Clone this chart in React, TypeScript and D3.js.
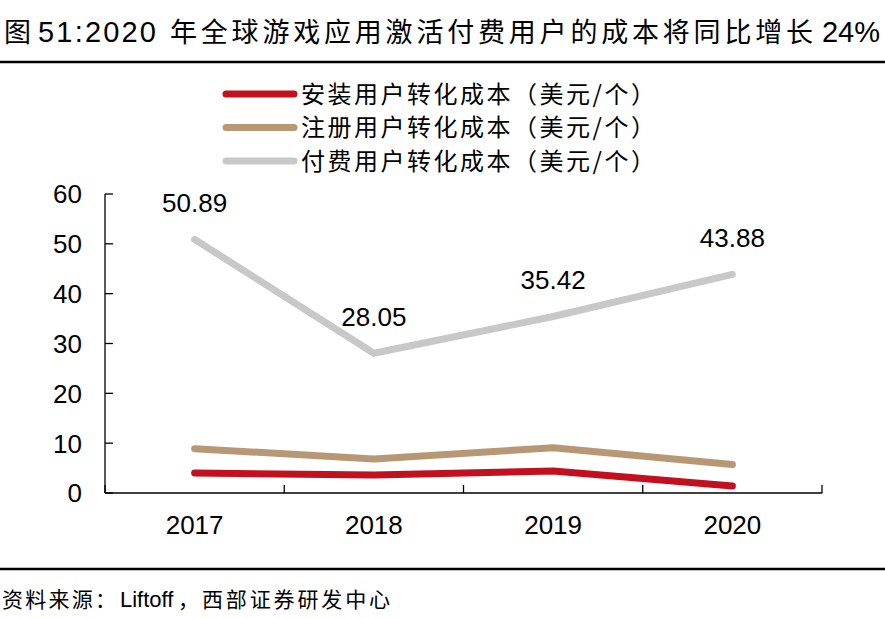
import React from "react";
import * as d3 from "d3";

const years = ["2017", "2018", "2019", "2020"];
const installCost = [4.0, 3.6, 4.4, 1.4];
const registerCost = [8.9, 6.8, 9.1, 5.7];
const payCost = [50.89, 28.05, 35.42, 43.88];
const payLabels = ["50.89", "28.05", "35.42", "43.88"];
const yTicks = [0, 10, 20, 30, 40, 50, 60];
const seriesNames = [
  "安装用户转化成本（美元/个）",
  "注册用户转化成本（美元/个）",
  "付费用户转化成本（美元/个）",
];
const titleA = "图";
const titleB = "51:2020";
const titleC = "年全球游戏应用激活付费用户的成本将同比增长";
const titleD = "24%";
const sourceA = "资料来源：";
const sourceB = "Liftoff";
const sourceC = "，西部证券研发中心";

const colors = ["#C3101E", "#B89874", "#C8C8C8"];

export default function App() {
  const W = 885, H = 618;
  const left = 105, right = 822, top = 194, bottom = 493;
  const x = d3.scaleBand().domain(years).range([left, right]);
  const y = d3.scaleLinear().domain([0, 60]).range([bottom, top]);
  const line = d3
    .line<number>()
    .x((_, i) => (x(years[i]) as number) + x.bandwidth() / 2)
    .y((d) => y(d));
  const series = [installCost, registerCost, payCost];
  const cjk = "'Noto Sans CJK SC', 'Liberation Sans', sans-serif";
  const num = "'Liberation Sans', Arial, sans-serif";
  const boundaries = years.map((yr) => x(yr) as number).concat([right]);

  return (
    <svg width={W} height={H} style={{ position: "absolute", left: 0, top: 0, background: "#fff" }}>
      <g fill="#000">
        <text x={4} y={42} fontSize={27} fontFamily={cjk}>{titleA}</text>
        <text x={38} y={42} fontSize={29} fontFamily={num} textLength={118} lengthAdjust="spacing">{titleB}</text>
        <text x={170} y={42} fontSize={27} fontFamily={cjk} textLength={643} lengthAdjust="spacing">{titleC}</text>
        <text x={880} y={42} fontSize={29} fontFamily={num} textAnchor="end">{titleD}</text>
      </g>
      <line x1={0} x2={W} y1={62} y2={62} stroke="#000" strokeWidth={2.5} />

      {seriesNames.map((n, i) => (
        <g key={n}>
          <line x1={226} x2={294} y1={94 + i * 33.5} y2={94 + i * 33.5} stroke={colors[i]} strokeWidth={7} strokeLinecap="round" />
          <text x={301} y={94 + i * 33.5} dy="0.36em" fontSize={24} fontFamily={cjk} fill="#000" textLength={354} lengthAdjust="spacing">
            {n}
          </text>
        </g>
      ))}

      {/* y axis */}
      <line x1={left} x2={left} y1={top} y2={bottom} stroke="#000" strokeWidth={1.3} />
      {yTicks.map((t) => (
        <g key={t}>
          <line x1={left} x2={left + 8} y1={y(t)} y2={y(t)} stroke="#000" strokeWidth={1.3} />
          <text x={82} y={y(t)} dy="0.36em" textAnchor="end" fontSize={26} fontFamily={num} fill="#000">
            {t}
          </text>
        </g>
      ))}

      {/* x axis */}
      <line x1={left} x2={right} y1={bottom} y2={bottom} stroke="#000" strokeWidth={1.3} />
      {boundaries.map((b, i) => (
        <line key={i} x1={b} x2={b} y1={bottom} y2={bottom - 8} stroke="#000" strokeWidth={1.3} />
      ))}
      {years.map((yr) => (
        <text key={yr} x={(x(yr) as number) + x.bandwidth() / 2} y={525} dy="0.36em" textAnchor="middle" fontSize={26} fontFamily={num} fill="#000">
          {yr}
        </text>
      ))}

      {series.map((s, i) => (
        <path key={i} d={line(s) || ""} fill="none" stroke={colors[i]} strokeWidth={7} strokeLinecap="round" strokeLinejoin="round" />
      ))}

      {payCost.map((v, i) => (
        <text key={i} x={(x(years[i]) as number) + x.bandwidth() / 2} y={y(v) - 27} textAnchor="middle" fontSize={26} fontFamily={num} fill="#000">
          {payLabels[i]}
        </text>
      ))}

      <line x1={0} x2={W} y1={569} y2={569} stroke="#000" strokeWidth={2.5} />
      <g fill="#000">
        <text x={2} y={599} dy="0.36em" fontSize={21} fontFamily={cjk} textLength={114} lengthAdjust="spacing">{sourceA}</text>
        <text x={120} y={599} dy="0.36em" fontSize={22} fontFamily={num}>{sourceB}</text>
        <text x={178} y={599} dy="0.36em" fontSize={21} fontFamily={cjk} textLength={212} lengthAdjust="spacing">{sourceC}</text>
      </g>
    </svg>
  );
}
